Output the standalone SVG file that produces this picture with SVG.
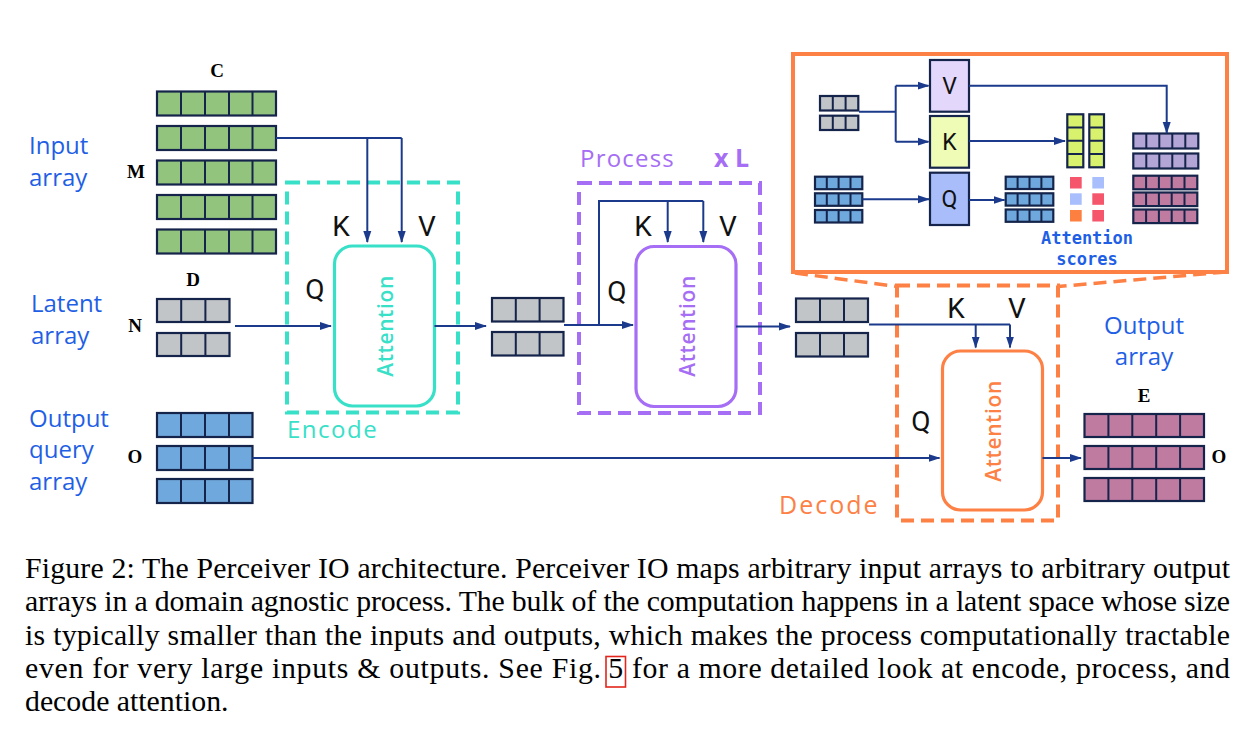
<svg xmlns="http://www.w3.org/2000/svg" width="1256" height="738" viewBox="0 0 1256 738">
<defs>
<style>
.lbl{font-family:"Open Sans","Liberation Sans",sans-serif;font-size:24px;fill:#1f5fe6}
.dim{font-family:"Liberation Serif",serif;font-weight:bold;font-size:19px;fill:#000;text-anchor:middle}
.kvq{font-family:Roboto,"Liberation Sans",sans-serif;font-size:28px;fill:#111;text-anchor:middle}
.kvqs{font-family:Roboto,"Liberation Sans",sans-serif;font-size:23px;fill:#111;text-anchor:middle}
.att{font-family:"Open Sans","Liberation Sans",sans-serif;font-size:21px;font-weight:600;text-anchor:middle;letter-spacing:0.6px}
.cap{font-family:"Liberation Serif",serif;font-size:29.8px;fill:#000}
.cell{stroke:#14244a;stroke-width:2.2}
.cl{stroke:#14244a;stroke-width:2}
.ar{fill:none;stroke:#1b3a8c;stroke-width:2}
.arh{fill:none;stroke:#1b3a8c;stroke-width:2;marker-end:url(#ah)}
.green{fill:#93c47d}.gray{fill:#c1c5c7}.blue{fill:#6fa8dc}.mauve{fill:#c07ba0}.purp{fill:#b3a6d6}.yel{fill:#d9f26e}
</style>
<marker id="ah" markerWidth="12" markerHeight="10" refX="11" refY="5" orient="auto" markerUnits="userSpaceOnUse"><path d="M0,1 L12,5 L0,9 z" fill="#1b3a8c"/></marker>
</defs>
<rect width="1256" height="738" fill="#fff"/>

<!-- Input array -->
<g id="input-array">
<text class="lbl" x="29" y="154">Input</text>
<text class="lbl" x="29" y="186">array</text>
<text class="dim" x="217" y="77">C</text>
<text class="dim" x="136" y="178">M</text>
<g class="green">
<rect class="cell" x="157" y="91.5" width="119" height="24"/>
<rect class="cell" x="157" y="126" width="119" height="24"/>
<rect class="cell" x="157" y="160.5" width="119" height="24"/>
<rect class="cell" x="157" y="195" width="119" height="24"/>
<rect class="cell" x="157" y="229.5" width="119" height="24"/>
</g>
<path class="cl" d="M181,91.5V115.5M205,91.5V115.5M229,91.5V115.5M252.5,91.5V115.5M181,126V150M205,126V150M229,126V150M252.5,126V150M181,160.5V184.5M205,160.5V184.5M229,160.5V184.5M252.5,160.5V184.5M181,195V219M205,195V219M229,195V219M252.5,195V219M181,229.5V253.5M205,229.5V253.5M229,229.5V253.5M252.5,229.5V253.5"/>
</g>

<!-- Latent array -->
<g id="latent-array">
<text class="lbl" x="31" y="312">Latent</text>
<text class="lbl" x="31" y="344">array</text>
<text class="dim" x="193" y="286">D</text>
<text class="dim" x="135" y="332">N</text>
<rect class="cell gray" x="157" y="299" width="72.5" height="23"/>
<rect class="cell gray" x="157" y="333" width="72.5" height="23"/>
<path class="cl" d="M181.2,299V322M205.4,299V322M181.2,333V356M205.4,333V356"/>
</g>

<!-- Output query array -->
<g id="output-query">
<text class="lbl" x="29" y="427">Output</text>
<text class="lbl" x="29" y="458">query</text>
<text class="lbl" x="29" y="490">array</text>
<text class="dim" x="135" y="463">O</text>
<g class="blue">
<rect class="cell" x="157" y="413" width="95.5" height="24"/>
<rect class="cell" x="157" y="446" width="95.5" height="24"/>
<rect class="cell" x="157" y="479" width="95.5" height="24"/>
</g>
<path class="cl" d="M181,413V437M205,413V437M229,413V437M181,446V470M205,446V470M229,446V470M181,479V503M205,479V503M229,479V503"/>
</g>

<!-- Encode -->
<g id="encode">
<rect x="287" y="182.5" width="171" height="230" fill="none" stroke="#38e0c8" stroke-width="4" stroke-dasharray="13 7"/>
<text x="287" y="438" style="font-family:'Open Sans','Liberation Sans',sans-serif;font-size:24px;fill:#38e0c8;letter-spacing:1.5px">Encode</text>
<rect x="334.5" y="246" width="100" height="160" rx="18" fill="#fff" stroke="#38e0c8" stroke-width="3.2"/>
<text class="att" fill="#38e0c8" transform="translate(393,326) rotate(-90)">Attention</text>
<text class="kvq" x="341" y="236">K</text>
<text class="kvq" x="427" y="236">V</text>
<text class="kvq" x="315" y="299">Q</text>
</g>

<!-- Latent after encode -->
<g id="latent-1">
<rect class="cell gray" x="492" y="298" width="71.5" height="23.5"/>
<rect class="cell gray" x="492" y="332" width="71.5" height="23.5"/>
<path class="cl" d="M515.8,298V321.5M539.6,298V321.5M515.8,332V355.5M539.6,332V355.5"/>
</g>

<!-- Process -->
<g id="process">
<rect x="579" y="183" width="181" height="230" fill="none" stroke="#a56ef4" stroke-width="4" stroke-dasharray="13 7"/>
<text x="580" y="167" style="font-family:'Open Sans','Liberation Sans',sans-serif;font-size:24px;fill:#a56ef4;letter-spacing:1.2px">Process</text>
<text x="714" y="167" style="font-family:'Open Sans','Liberation Sans',sans-serif;font-size:25px;font-weight:bold;fill:#a56ef4">x L</text>
<rect x="636" y="246.5" width="100" height="160" rx="18" fill="#fff" stroke="#a56ef4" stroke-width="3.2"/>
<text class="att" fill="#a56ef4" transform="translate(695,326) rotate(-90)">Attention</text>
<text class="kvq" x="643" y="236">K</text>
<text class="kvq" x="728" y="236">V</text>
<text class="kvq" x="617" y="301">Q</text>
</g>

<!-- Latent after process -->
<g id="latent-2">
<rect class="cell gray" x="796" y="298.5" width="72" height="23.5"/>
<rect class="cell gray" x="796" y="333" width="72" height="23.5"/>
<path class="cl" d="M820,298.5V322M844,298.5V322M820,333V356.5M844,333V356.5"/>
</g>

<!-- Decode -->
<g id="decode">
<path d="M795,273 L897,286.5 M1226,272 L1058,286.5" fill="none" stroke="#fd8045" stroke-width="3.5" stroke-dasharray="13 7"/>
<rect x="897" y="285.5" width="161" height="235" fill="none" stroke="#fd8045" stroke-width="4" stroke-dasharray="13 7"/>
<text x="779" y="514" style="font-family:'Open Sans','Liberation Sans',sans-serif;font-size:25px;fill:#fd8045;letter-spacing:2px">Decode</text>
<rect x="942.5" y="351" width="100" height="159" rx="18" fill="#fff" stroke="#fd8045" stroke-width="3.2"/>
<text class="att" fill="#fd8045" transform="translate(1000.5,431) rotate(-90)">Attention</text>
<text class="kvq" x="956" y="318">K</text>
<text class="kvq" x="1017" y="318">V</text>
<text class="kvq" x="921" y="431">Q</text>
</g>

<!-- Output array -->
<g id="output-array">
<text class="lbl" x="1144" y="334" text-anchor="middle">Output</text>
<text class="lbl" x="1144" y="365" text-anchor="middle">array</text>
<text class="dim" x="1144" y="402">E</text>
<text class="dim" x="1219" y="463">O</text>
<g class="mauve">
<rect class="cell" x="1084.5" y="414" width="119.5" height="23"/>
<rect class="cell" x="1084.5" y="446" width="119.5" height="23"/>
<rect class="cell" x="1084.5" y="478" width="119.5" height="23"/>
</g>
<path class="cl" d="M1108.4,414V437M1132.3,414V437M1156.2,414V437M1180.1,414V437M1108.4,446V469M1132.3,446V469M1156.2,446V469M1180.1,446V469M1108.4,478V501M1132.3,478V501M1156.2,478V501M1180.1,478V501"/>
</g>

<!-- Inset -->
<g id="inset">
<rect x="793" y="54" width="434" height="218" fill="#fff" stroke="#fd8045" stroke-width="4"/>
<rect class="cell gray" x="820" y="96" width="38.3" height="14.5"/>
<rect class="cell gray" x="820" y="115.7" width="38.3" height="14.3"/>
<path class="cl" d="M832.8,96V110.5M845.6,96V110.5M832.8,115.7V130M845.6,115.7V130"/>
<g class="blue">
<rect class="cell" x="815" y="176.7" width="47.3" height="12.5"/>
<rect class="cell" x="815" y="193.3" width="47.3" height="12.5"/>
<rect class="cell" x="815" y="210" width="47.3" height="12.5"/>
<rect class="cell" x="1005.7" y="176.7" width="47.6" height="12.3"/>
<rect class="cell" x="1005.7" y="193.3" width="47.6" height="12.3"/>
<rect class="cell" x="1005.7" y="209.5" width="47.6" height="12.3"/>
</g>
<path class="cl" d="M826.8,176.7V189.2M838.6,176.7V189.2M850.5,176.7V189.2M826.8,193.3V205.8M838.6,193.3V205.8M850.5,193.3V205.8M826.8,210V222.5M838.6,210V222.5M850.5,210V222.5M1017.6,176.7V189M1029.5,176.7V189M1041.4,176.7V189M1017.6,193.3V205.6M1029.5,193.3V205.6M1041.4,193.3V205.6M1017.6,209.5V221.8M1029.5,209.5V221.8M1041.4,209.5V221.8"/>
<rect class="cell" x="930" y="60" width="39" height="51.7" fill="#e4d7fc"/>
<rect class="cell" x="930" y="116" width="39" height="51.7" fill="#eefcb6"/>
<rect class="cell" x="930" y="172.7" width="39" height="52.3" fill="#a8bdf9"/>
<text class="kvqs" x="949.5" y="94">V</text>
<text class="kvqs" x="949.5" y="150">K</text>
<text class="kvqs" x="949.5" y="207">Q</text>
<g class="yel">
<rect class="cell" x="1067.3" y="114.3" width="16" height="53"/>
<rect class="cell" x="1089.3" y="114.3" width="14.7" height="53"/>
</g>
<path class="cl" d="M1067.3,127.6H1083.3M1067.3,140.8H1083.3M1067.3,154H1083.3M1089.3,127.6H1104M1089.3,140.8H1104M1089.3,154H1104"/>
<rect x="1070" y="177" width="11.7" height="11.5" fill="#f5566b"/>
<rect x="1092.3" y="177" width="11.7" height="11.5" fill="#a9bffd"/>
<rect x="1070" y="193.3" width="11.7" height="11.5" fill="#a9bffd"/>
<rect x="1092.3" y="193.3" width="11.7" height="11.5" fill="#f5566b"/>
<rect x="1070" y="210" width="11.7" height="11.5" fill="#fd8040"/>
<rect x="1092.3" y="210" width="11.7" height="11.5" fill="#f5566b"/>
<g class="purp">
<rect class="cell" x="1133.3" y="133.5" width="65" height="15"/>
<rect class="cell" x="1133.3" y="153.5" width="65" height="15"/>
</g>
<g class="mauve">
<rect class="cell" x="1133.3" y="175.7" width="64" height="13.6"/>
<rect class="cell" x="1133.3" y="192.5" width="64" height="13.6"/>
<rect class="cell" x="1133.3" y="209.5" width="64" height="13.6"/>
</g>
<path class="cl" d="M1146.3,133.5V148.5M1159.3,133.5V148.5M1172.3,133.5V148.5M1185.3,133.5V148.5M1146.3,153.5V168.5M1159.3,153.5V168.5M1172.3,153.5V168.5M1185.3,153.5V168.5M1146.1,175.7V189.3M1158.9,175.7V189.3M1171.7,175.7V189.3M1184.5,175.7V189.3M1146.1,192.5V206.1M1158.9,192.5V206.1M1171.7,192.5V206.1M1184.5,192.5V206.1M1146.1,209.5V223.1M1158.9,209.5V223.1M1171.7,209.5V223.1M1184.5,209.5V223.1"/>
<text x="1087" y="244" text-anchor="middle" style="font-family:'DejaVu Sans Mono','Liberation Mono',monospace;font-weight:bold;font-size:17px;fill:#1f5fe6">Attention</text>
<text x="1087" y="265" text-anchor="middle" style="font-family:'DejaVu Sans Mono','Liberation Mono',monospace;font-weight:bold;font-size:17px;fill:#1f5fe6">scores</text>
</g>

<!-- Connectors -->
<g id="connectors">
<path class="ar" d="M276,138H401.7"/>
<path class="arh" d="M367.3,138V242"/>
<path class="arh" d="M401.7,138V242"/>
<path class="arh" d="M235,326H331"/>
<path class="arh" d="M434.5,326H486"/>
<path class="arh" d="M564,325H633"/>
<path class="ar" d="M599,325V201H703.3"/>
<path class="arh" d="M667.7,201V242"/>
<path class="arh" d="M703.3,201V242"/>
<path class="arh" d="M736,326.5H790"/>
<path class="ar" d="M869,324.5H1010"/>
<path class="arh" d="M975.7,324.5V347.5"/>
<path class="arh" d="M1010,324.5V347.5"/>
<path class="arh" d="M252.5,458H939.5"/>
<path class="arh" d="M1042.5,458H1081"/>
<path class="ar" d="M859,111.7H895.7M895.7,85.7V141.7"/>
<path class="arh" d="M895.7,85.7H928.5"/>
<path class="arh" d="M895.7,141.7H928.5"/>
<path class="arh" d="M862.5,199.3H929"/>
<path class="arh" d="M969,85.7H1166.7V133"/>
<path class="arh" d="M969,141H1065"/>
<path class="arh" d="M969,200H1004.5"/>
</g>

<!-- Caption -->
<g id="caption">
<text class="cap" x="25" y="578" textLength="1205" lengthAdjust="spacing">Figure 2: The Perceiver IO architecture. Perceiver IO maps arbitrary input arrays to arbitrary output</text>
<text class="cap" x="25" y="611" textLength="1205" lengthAdjust="spacing">arrays in a domain agnostic process. The bulk of the computation happens in a latent space whose size</text>
<text class="cap" x="25" y="645" textLength="1205" lengthAdjust="spacing">is typically smaller than the inputs and outputs, which makes the process computationally tractable</text>
<text class="cap" x="25" y="678" textLength="576" lengthAdjust="spacing">even for very large inputs &amp; outputs.  See Fig.</text>
<text class="cap" x="608.3" y="678">5</text>
<rect x="606" y="656.5" width="19.5" height="30.5" fill="none" stroke="#e3261b" stroke-width="1.6"/>
<text class="cap" x="632" y="678" textLength="598" lengthAdjust="spacing">for a more detailed look at encode, process, and</text>
<text class="cap" x="25" y="711">decode attention.</text>
</g>
</svg>
